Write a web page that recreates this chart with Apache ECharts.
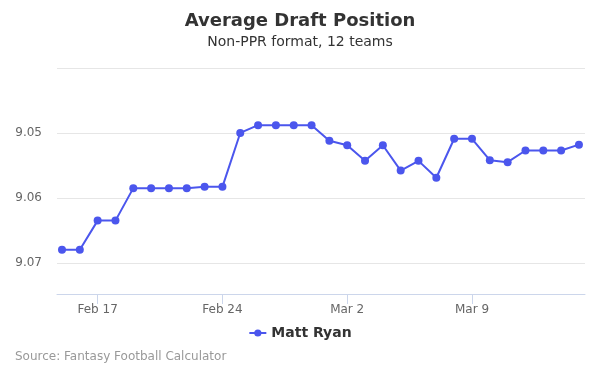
<!DOCTYPE html>
<html><head><meta charset="utf-8">
<script src="https://cdn.jsdelivr.net/npm/echarts@6/dist/echarts.min.js"></script>
<style>html,body{margin:0;padding:0;background:#fff}#c{width:600px;height:375px}</style>
</head><body><div id="c"></div>
<script>
const dates = ['Feb 15','Feb 16','Feb 17','Feb 18','Feb 19','Feb 20','Feb 21','Feb 22','Feb 23','Feb 24','Feb 25','Feb 26','Feb 27','Feb 28','Feb 29','Mar 1','Mar 2','Mar 3','Mar 4','Mar 5','Mar 6','Mar 7','Mar 8','Mar 9','Mar 10','Mar 11','Mar 12','Mar 13','Mar 14','Mar 15'];
const adp = [9.068,9.068,9.0635,9.0635,9.0585,9.0585,9.0585,9.0585,9.0583,9.0583,9.05,9.0488,9.0488,9.0488,9.0488,9.0512,9.0519,9.0543,9.0519,9.0558,9.0543,9.0569,9.0509,9.0509,9.0542,9.0545,9.0527,9.0527,9.0527,9.0518];
const xTickIdx = [2,9,16,23];
const yTicks = [9.04,9.05,9.06,9.07];
const font = 'DejaVu Sans';
const chart = echarts.init(document.getElementById('c'), null, {renderer:'canvas'});
chart.setOption({
  animation:false,
  textStyle:{fontFamily:font},
  title:{text:'Average Draft Position',subtext:'Non-PPR format, 12 teams',left:'center',top:7,itemGap:5,
    textStyle:{fontFamily:font,fontSize:18,fontWeight:'bold',color:'#333'},
    subtextStyle:{fontFamily:font,fontSize:14,color:'#333'}},
  legend:{bottom:30,left:'center',itemWidth:17,itemHeight:9,
    textStyle:{fontFamily:font,fontSize:14,fontWeight:'bold',color:'#333'}},
  graphic:[{type:'text',left:15,top:351,style:{text:'Source: Fantasy Football Calculator',fill:'#999',font:'12px "DejaVu Sans"'}}],
  grid:{left:57,right:15,top:68,bottom:81},
  xAxis:{type:'value',min:-0.28,max:29.34,
    axisLine:{lineStyle:{color:'#ccd6eb'}},
    axisTick:{show:true,length:10,lineStyle:{color:'#ccd6eb'},customValues:xTickIdx},
    axisLabel:{customValues:xTickIdx,color:'#666',fontSize:12,margin:10,formatter:v=>dates[Math.round(v)]},
    splitLine:{show:false}},
  yAxis:{type:'value',inverse:true,min:9.04,max:9.0748,interval:0.01,
    axisLine:{show:false},axisTick:{show:false},
    axisLabel:{color:'#666',fontSize:12,margin:15,
      formatter:v=>{const r=Math.round(v*100)/100; if(Math.abs(v-r)>1e-6||r<9.045) return ''; return r.toFixed(2);}},
    splitLine:{lineStyle:{color:'#e6e6e6'}}},
  series:[{name:'Matt Ryan',type:'line',data:adp.map((v,i)=>[i,v]),
    symbol:'circle',symbolSize:8,showSymbol:true,
    lineStyle:{width:2,color:'#4b56ed'},itemStyle:{color:'#4b56ed'}}]
});
</script></body></html>
